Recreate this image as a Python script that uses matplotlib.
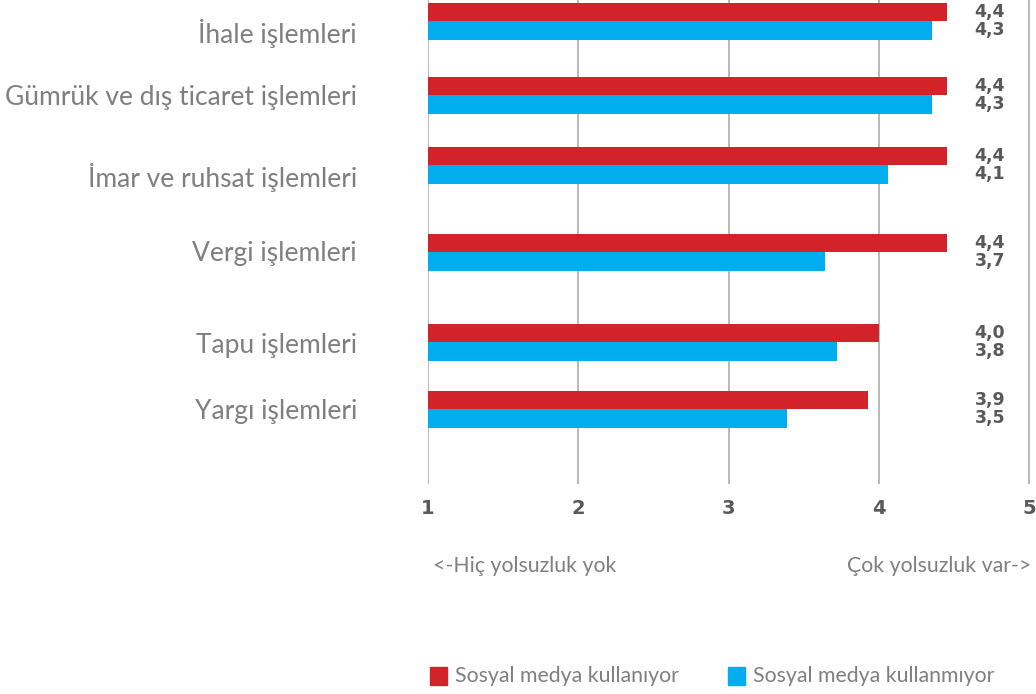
import matplotlib.pyplot as plt

# categories, top to bottom
categories = ["İhale işlemleri", "Gümrük ve dış ticaret işlemleri",
              "İmar ve ruhsat işlemleri", "Vergi işlemleri",
              "Tapu işlemleri", "Yargı işlemleri"]
# bar lengths as drawn
uses_sm = [4.45, 4.45, 4.45, 4.45, 4.00, 3.93]
no_sm = [4.35, 4.35, 4.06, 3.64, 3.72, 3.39]
# printed value labels
uses_sm_lbl = ["4,4", "4,4", "4,4", "4,4", "4,0", "3,9"]
no_sm_lbl = ["4,3", "4,3", "4,1", "3,7", "3,8", "3,5"]
series_names = ["Sosyal medya kullanıyor", "Sosyal medya kullanmıyor"]
xticks = [1, 2, 3, 4, 5]

# layout (y in pixel rows of the axes, top = 0)
group_y = [21, 95, 165, 252, 342, 409]
label_y = [33, 98, 177, 254, 345, 411]
bar_h = 18.5

RED = "#D2232A"
BLUE = "#00AEEF"
GRID = "#A6A6A6"
LBL = "#7F7F7F"
DARK = "#595959"

plt.rcParams['font.family'] = ['Lato', 'DejaVu Sans']

fig = plt.figure(figsize=(10.36, 6.94), dpi=100)
ax = fig.add_axes([428 / 1036, 1 - 484 / 694, (1030 - 428) / 1036, 484 / 694])

for i in range(len(categories)):
    ax.barh(group_y[i] - bar_h / 2, uses_sm[i] - 1, left=1, height=bar_h,
            color=RED, zorder=3)
    ax.barh(group_y[i] + bar_h / 2, no_sm[i] - 1, left=1, height=bar_h,
            color=BLUE, zorder=3)
    ax.text(4.84, group_y[i] - bar_h / 2, uses_sm_lbl[i], ha='right',
            va='center', fontsize=12.5, fontweight='bold', color=DARK,
            family='DejaVu Sans')
    ax.text(4.84, group_y[i] + bar_h / 2, no_sm_lbl[i], ha='right',
            va='center', fontsize=12.5, fontweight='bold', color=DARK,
            family='DejaVu Sans')
    ax.text(-0.118, label_y[i], categories[i], ha='right', va='center',
            fontsize=19, color=LBL, transform=ax.get_yaxis_transform())

ax.set_xlim(1, 5.005)
ax.set_ylim(484, 0)
ax.set_yticks([])
ax.set_xticks(xticks)
ax.set_xticklabels([str(t) for t in xticks], fontsize=14, fontweight='bold',
                   color=DARK, family='DejaVu Sans')
ax.tick_params(axis='x', length=0, pad=11)
for t in xticks:
    ax.axvline(t, color=GRID, lw=1.1, zorder=1)
for s in ax.spines.values():
    s.set_visible(False)

fig.text(433 / 1036, 1 - 566 / 694, "<-Hiç yolsuzluk yok", ha='left',
         va='center', fontsize=15.3, color=LBL)
fig.text(1031 / 1036, 1 - 566 / 694, "Çok yolsuzluk var->", ha='right',
         va='center', fontsize=15.3, color=LBL)

# legend
leg_x = [430, 728]
for name, col, lx in zip(series_names, [RED, BLUE], leg_x):
    fig.patches.append(plt.Rectangle((lx / 1036, 1 - 685 / 694), 17 / 1036,
                                     18 / 694, transform=fig.transFigure,
                                     color=col))
    fig.text((lx + 25) / 1036, 1 - 676 / 694, name, ha='left', va='center',
             fontsize=15.3, color=LBL)

fig.savefig("out.png", dpi=100)
